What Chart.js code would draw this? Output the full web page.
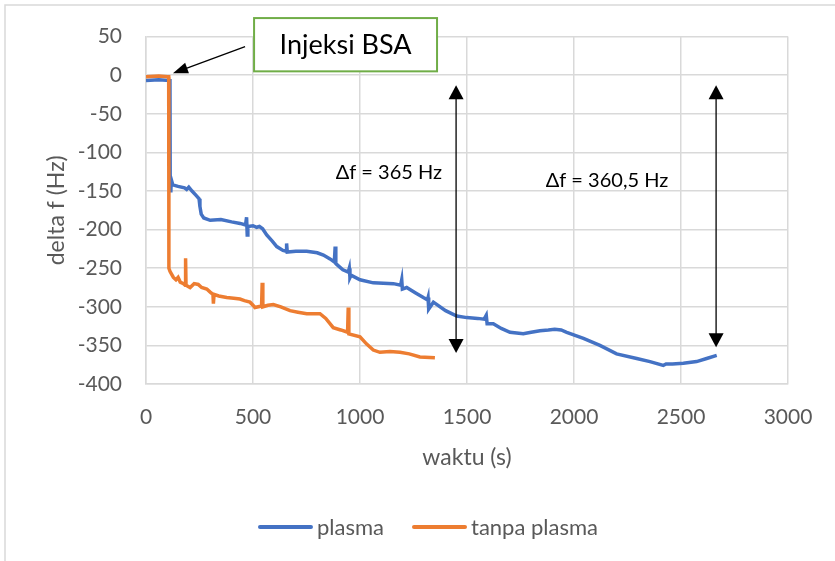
<!DOCTYPE html>
<html><head><meta charset="utf-8">
<script src="https://cdn.jsdelivr.net/npm/chart.js@4"></script>
<style>html,body{margin:0;padding:0;background:#fff}</style>
</head><body>
<canvas id="c" width="835" height="561" style="width:835px;height:561px;display:block"></canvas>
<script>
// ---- data ----
const seriesNames = ['plasma', 'tanpa plasma'];
const xTicks = [0, 500, 1000, 1500, 2000, 2500, 3000];
const yTicks = [50, 0, -50, -100, -150, -200, -250, -300, -350, -400];

const plasmaT = [0,60,112,113,116,118,125,150,180,190,200,215,235,248,252,258,270,300,350,400,440,465,470,473,476,500,517,530,545,564,590,611,640,655,657,660,700,751,800,829,860,880,884,887,891,920,945,950,953,958,1000,1062,1156,1190,1195,1198,1218,1260,1296,1315,1318,1321,1343,1400,1452,1499,1550,1580,1590,1594,1623,1660,1701,1763,1800,1841,1880,1910,1940,1966,2044,2121,2199,2293,2355,2417,2430,2460,2511,2573,2620,2667];
const plasmaF = [-7,-6,-7,-133,-152,-135,-142,-144,-146,-148,-145,-150,-156,-160,-170,-180,-185,-188,-187,-190,-192,-194,-184,-207,-196,-195,-197,-196,-199,-207,-215,-222,-227,-228,-218,-229,-228,-228,-230,-233,-238,-242,-222,-244,-245,-252,-255,-250,-262,-259,-265,-269,-270,-272,-265,-277,-275,-282,-288,-291,-288,-303,-294,-305,-312,-314,-315,-316,-311,-322,-322,-328,-333,-335,-333,-331,-330,-329,-330,-333,-341,-350,-361,-367,-371,-376,-374,-374,-373,-371,-367,-363];

const tanpaT = [0,60,100,106,107,112,120,128,140,150,160,175,183,185,187,206,225,244,260,284,300,313,315,318,340,377,410,439,460,486,500,509,540,543,546,570,595,630,673,710,751,780,813,840,875,910,942,945,948,1000,1030,1062,1093,1140,1187,1230,1280,1350];
const tanpaF = [-2,-1,-2,-2,-250,-254,-258,-262,-265,-262,-268,-270,-272,-237,-272,-275,-270,-271,-275,-277,-281,-284,-296,-284,-286,-288,-289,-290,-292,-294,-298,-301,-299,-269,-300,-298,-297,-300,-305,-307,-309,-309,-309,-315,-327,-330,-333,-301,-335,-339,-348,-356,-359,-358,-359,-361,-365,-366];

const toXY = (T, F) => T.map((t, i) => ({x: t, y: F[i]}));

const FONT = 'Lato';
const GRAY = '#595959';
const GRID = '#d9d9d9';

function arrowHead(ctx, x1, y1, x2, y2, len, half) {
  const a = Math.atan2(y2 - y1, x2 - x1);
  ctx.beginPath();
  ctx.moveTo(x2, y2);
  ctx.lineTo(x2 - len * Math.cos(a) + half * Math.sin(a), y2 - len * Math.sin(a) - half * Math.cos(a));
  ctx.lineTo(x2 - len * Math.cos(a) - half * Math.sin(a), y2 - len * Math.sin(a) + half * Math.cos(a));
  ctx.closePath();
  ctx.fill();
}

const framePlugin = {
  id: 'frame',
  beforeDraw(chart) {
    const ctx = chart.ctx;
    ctx.save();
    ctx.fillStyle = '#fff';
    ctx.fillRect(0, 0, chart.width, chart.height);
    ctx.strokeStyle = GRID;
    ctx.lineWidth = 1.5;
    ctx.beginPath();
    ctx.moveTo(5, chart.height);
    ctx.lineTo(5, 5);
    ctx.lineTo(chart.width, 5);
    ctx.stroke();
    ctx.restore();
  }
};

const annotPlugin = {
  id: 'annot',
  afterDraw(chart) {
    const ctx = chart.ctx, xs = chart.scales.x, ys = chart.scales.y;
    const X = v => xs.getPixelForValue(v), Y = v => ys.getPixelForValue(v);
    ctx.save();
    ctx.fillStyle = '#000';
    ctx.strokeStyle = '#000';
    ctx.lineWidth = 1.3;
    // double arrows
    [[1449, -13, -360], [2664, -13, -352.5]].forEach(([t, top, bot]) => {
      const x = X(t), y1 = Y(top), y2 = Y(bot);
      ctx.beginPath();
      ctx.moveTo(x, y1 + 10);
      ctx.lineTo(x, y2 - 10);
      ctx.stroke();
      arrowHead(ctx, x, y2 - 20, x, y2, 14, 7.5);
      arrowHead(ctx, x, y1 + 20, x, y1, 14, 7.5);
    });
    // Δf labels
    ctx.font = '20px ' + FONT;
    ctx.textAlign = 'center';
    ctx.textBaseline = 'middle';
    ctx.fillText('\u0394f = 365 Hz', X(1135), Y(-125.6));
    ctx.fillText('\u0394f = 360,5 Hz', X(2154), Y(-136));
    // injection arrow
    const ax1 = X(463), ay1 = Y(37), ax2 = X(126), ay2 = Y(2.6);
    ctx.beginPath();
    ctx.moveTo(ax1, ay1);
    const ang = Math.atan2(ay2 - ay1, ax2 - ax1);
    ctx.lineTo(ax2 - 12 * Math.cos(ang), ay2 - 12 * Math.sin(ang));
    ctx.stroke();
    arrowHead(ctx, ax1, ay1, ax2, ay2, 15, 5.5);
    // box
    const bx1 = X(505), bx2 = X(1360), by1 = Y(74), by2 = Y(5);
    ctx.fillStyle = '#fff';
    ctx.fillRect(bx1, by1, bx2 - bx1, by2 - by1);
    ctx.strokeStyle = '#70AD47';
    ctx.lineWidth = 2;
    ctx.strokeRect(bx1, by1, bx2 - bx1, by2 - by1);
    ctx.fillStyle = '#000';
    ctx.font = '27px ' + FONT;
    ctx.fillText('Injeksi BSA', (bx1 + bx2) / 2, (by1 + by2) / 2 + 1);
    // legend
    const ds = chart.data.datasets;
    ctx.font = '22px ' + FONT;
    ctx.textAlign = 'left';
    const lineW = 53, gap = 5, spacing = 29;
    const widths = ds.map(d => lineW + gap + ctx.measureText(d.label).width);
    const total = widths.reduce((a, b) => a + b, 0) + spacing * (ds.length - 1);
    let cx = 428.5 - total / 2;
    const ly = 527;
    ds.forEach((d, i) => {
      ctx.strokeStyle = d.borderColor;
      ctx.lineWidth = 4;
      ctx.lineCap = 'round';
      ctx.beginPath();
      ctx.moveTo(cx + 1, ly);
      ctx.lineTo(cx + lineW - 1, ly);
      ctx.stroke();
      ctx.fillStyle = GRAY;
      ctx.fillText(d.label, cx + lineW + gap, ly + 1);
      cx += widths[i] + spacing;
    });
    ctx.restore();
  }
};

new Chart(document.getElementById('c'), {
  type: 'scatter',
  data: {
    datasets: [
      {label: seriesNames[0], data: toXY(plasmaT, plasmaF), borderColor: '#4472C4', backgroundColor: '#4472C4', showLine: true, pointRadius: 0, borderWidth: 3.5, tension: 0, order: 1},
      {label: seriesNames[1], data: toXY(tanpaT, tanpaF), borderColor: '#ED7D31', backgroundColor: '#ED7D31', showLine: true, pointRadius: 0, borderWidth: 3.5, tension: 0, order: 0}
    ]
  },
  options: {
    responsive: false,
    animation: false,
    devicePixelRatio: 1,
    layout: {padding: {left: 0, right: 47, top: 33, bottom: 0}},
    plugins: {legend: {display: false}, tooltip: {enabled: false}},
    scales: {
      x: {
        type: 'linear', min: 0, max: 3000,
        afterBuildTicks: s => { s.ticks = xTicks.map(v => ({value: v})); },
        afterFit: s => { s.height = 177; },
        ticks: {color: GRAY, font: {family: FONT, size: 21}, padding: 21, callback: v => String(v), maxRotation: 0},
        grid: {color: GRID, lineWidth: 1.5, drawTicks: false},
        border: {display: true, color: GRID, width: 1.5},
        title: {display: true, text: 'waktu (s)', color: GRAY, font: {family: FONT, size: 23}, padding: {top: 0, bottom: 90}}
      },
      y: {
        type: 'linear', min: -400, max: 50,
        afterBuildTicks: s => { s.ticks = yTicks.map(v => ({value: v})); },
        afterFit: s => { s.width = 146; },
        ticks: {color: GRAY, font: {family: FONT, size: 21}, padding: 24, callback: v => String(v)},
        grid: {color: GRID, lineWidth: 1.5, drawTicks: false},
        border: {display: true, color: GRID, width: 1.5},
        title: {display: true, text: 'delta f (Hz)', color: GRAY, font: {family: FONT, size: 23}, padding: {top: 43, bottom: 0}}
      }
    }
  },
  plugins: [framePlugin, annotPlugin]
});
</script>
</body></html>
